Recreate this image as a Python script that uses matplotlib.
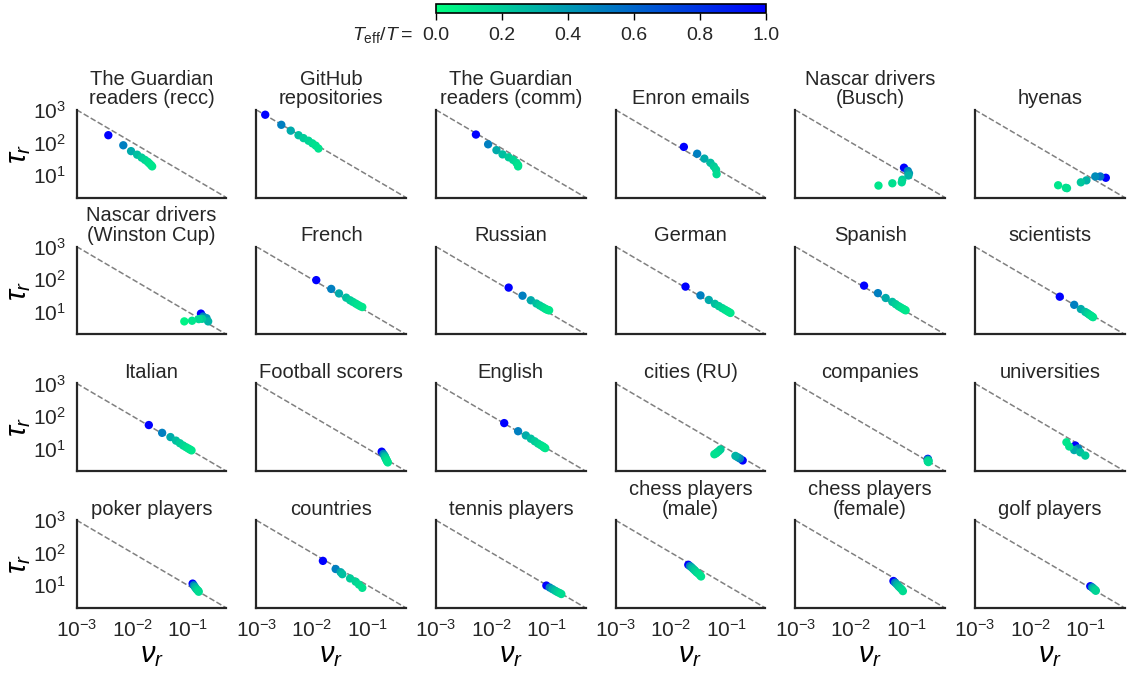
import numpy as np
import matplotlib
matplotlib.use("Agg")
import matplotlib.pyplot as plt
from matplotlib import cm, colors

plt.rcParams['font.family'] = ['Liberation Sans', 'DejaVu Sans']
plt.rcParams['mathtext.fontset'] = 'custom'
plt.rcParams['mathtext.rm'] = 'Liberation Sans'
plt.rcParams['mathtext.it'] = 'Liberation Sans:italic'

## panel titles
titles = ["The Guardian\nreaders (recc)", "GitHub\nrepositories", "The Guardian\nreaders (comm)",
          "Enron emails", "Nascar drivers\n(Busch)", "hyenas",
          "Nascar drivers\n(Winston Cup)", "French", "Russian", "German", "Spanish", "scientists",
          "Italian", "Football scorers", "English", "cities (RU)", "companies", "universities",
          "poker players", "countries", "tennis players", "chess players\n(male)",
          "chess players\n(female)", "golf players"]

## log10(nu_r)
log_nu = [
    [-2.43, -2.16, -2.02, -1.91, -1.83, -1.77, -1.72, -1.69, -1.66, -1.64],
    [-2.84, -2.55, -2.38, -2.24, -2.15, -2.06, -1.99, -1.93, -1.88],
    [-2.28, -2.06, -1.91, -1.80, -1.69, -1.61, -1.55, -1.52, -1.52],
    [-1.77, -1.53, -1.40, -1.29, -1.23, -1.19, -1.18],
    [-1.04, -0.97, -0.95, -0.96, -1.07, -1.08, -1.25, -1.50],
    [-0.64, -0.74, -0.83, -0.99, -1.09, -1.34, -1.36, -1.50],
    [-0.76, -0.72, -0.66, -0.63, -0.74, -0.80, -0.92, -1.06],
    [-1.92, -1.65, -1.51, -1.38, -1.31, -1.26, -1.21, -1.17, -1.13, -1.09],
    [-1.69, -1.44, -1.29, -1.19, -1.13, -1.08, -1.04, -1.01, -0.98, -0.96],
    [-1.74, -1.47, -1.32, -1.21, -1.14, -1.08, -1.03, -0.99, -0.96, -0.93],
    [-1.76, -1.51, -1.37, -1.25, -1.19, -1.14, -1.10, -1.06, -1.03, -1.01],
    [-1.47, -1.21, -1.09, -1.01, -0.97, -0.94, -0.91, -0.89, -0.87],
    [-1.70, -1.46, -1.31, -1.21, -1.14, -1.08, -1.03, -0.99, -0.96, -0.93],
    [-0.74, -0.71, -0.69, -0.68, -0.67, -0.66, -0.65, -0.64, -0.63],
    [-1.77, -1.52, -1.38, -1.29, -1.22, -1.16, -1.11, -1.07, -1.05, -1.03],
    [-0.71, -0.76, -0.80, -0.84, -1.11, -1.14, -1.17, -1.19, -1.22],
    [-0.61, -0.61, -0.60, -0.61, -0.60, -0.61, -0.60],
    [-1.19, -1.14, -1.21, -1.10, -1.01, -1.30, -1.35],
    [-0.91, -0.89, -0.87, -0.85, -0.83, -0.81, -0.80],
    [-1.80, -1.57, -1.48, -1.45, -1.31, -1.21, -1.15, -1.09],
    [-1.01, -0.95, -0.90, -0.85, -0.81, -0.77, -0.74],
    [-1.69, -1.66, -1.63, -1.60, -1.57, -1.54, -1.51, -1.48, -1.46],
    [-1.23, -1.20, -1.17, -1.14, -1.11, -1.08, -1.06],
    [-0.92, -0.89, -0.87, -0.85, -0.83, -0.82],
]

## log10(tau_r)
log_tau = [
    [2.22, 1.91, 1.73, 1.62, 1.53, 1.46, 1.40, 1.35, 1.30, 1.26],
    [2.85, 2.54, 2.36, 2.22, 2.13, 2.05, 1.97, 1.90, 1.81],
    [2.24, 1.94, 1.76, 1.63, 1.54, 1.46, 1.37, 1.30, 1.26],
    [1.86, 1.65, 1.50, 1.37, 1.26, 1.16, 1.02],
    [1.22, 1.12, 1.05, 0.98, 0.85, 0.77, 0.74, 0.67],
    [0.91, 0.95, 0.95, 0.83, 0.77, 0.59, 0.60, 0.68],
    [0.94, 0.85, 0.80, 0.70, 0.78, 0.77, 0.72, 0.70],
    [1.97, 1.70, 1.56, 1.43, 1.35, 1.30, 1.25, 1.21, 1.17, 1.14],
    [1.74, 1.49, 1.35, 1.25, 1.19, 1.14, 1.10, 1.07, 1.05, 1.04],
    [1.77, 1.50, 1.36, 1.24, 1.17, 1.11, 1.06, 1.02, 0.99, 0.96],
    [1.80, 1.57, 1.42, 1.30, 1.23, 1.17, 1.13, 1.09, 1.06, 1.04],
    [1.46, 1.21, 1.08, 0.99, 0.95, 0.91, 0.88, 0.85, 0.83],
    [1.72, 1.48, 1.35, 1.24, 1.16, 1.09, 1.04, 1.00, 0.97, 0.94],
    [0.90, 0.83, 0.78, 0.74, 0.70, 0.67, 0.63, 0.60, 0.57],
    [1.78, 1.53, 1.40, 1.30, 1.22, 1.15, 1.10, 1.06, 1.03, 1.01],
    [0.63, 0.69, 0.73, 0.77, 0.97, 0.92, 0.88, 0.85, 0.82],
    [0.68, 0.66, 0.64, 0.62, 0.61, 0.60, 0.58],
    [1.09, 1.00, 0.95, 0.88, 0.78, 1.06, 1.19],
    [1.05, 1.00, 0.95, 0.90, 0.86, 0.83, 0.80],
    [1.75, 1.50, 1.40, 1.34, 1.21, 1.11, 1.02, 0.92],
    [0.99, 0.93, 0.88, 0.83, 0.79, 0.76, 0.73],
    [1.63, 1.59, 1.55, 1.50, 1.45, 1.40, 1.36, 1.31, 1.27],
    [1.13, 1.08, 1.03, 0.97, 0.92, 0.87, 0.82],
    [0.97, 0.94, 0.91, 0.88, 0.85, 0.83],
]

## T_eff / T of each point (colour)
teff = [
    [1.0, 0.5, 0.33, 0.25, 0.2, 0.17, 0.14, 0.12, 0.11, 0.1],
    [1.0, 0.5, 0.33, 0.25, 0.2, 0.17, 0.14, 0.12, 0.11],
    [1.0, 0.5, 0.33, 0.25, 0.2, 0.17, 0.14, 0.12, 0.11],
    [1.0, 0.5, 0.33, 0.25, 0.2, 0.17, 0.14],
    [1.0, 0.5, 0.4, 0.3, 0.2, 0.15, 0.12, 0.1],
    [1.0, 0.55, 0.45, 0.3, 0.22, 0.15, 0.12, 0.1],
    [1.0, 0.5, 0.4, 0.3, 0.2, 0.15, 0.1, 0.05],
    [1.0, 0.5, 0.33, 0.25, 0.2, 0.17, 0.14, 0.12, 0.11, 0.1],
    [1.0, 0.5, 0.33, 0.25, 0.2, 0.17, 0.14, 0.12, 0.11, 0.1],
    [1.0, 0.5, 0.33, 0.25, 0.2, 0.17, 0.14, 0.12, 0.11, 0.1],
    [1.0, 0.5, 0.33, 0.25, 0.2, 0.17, 0.14, 0.12, 0.11, 0.1],
    [1.0, 0.5, 0.33, 0.25, 0.2, 0.17, 0.14, 0.12, 0.11],
    [1.0, 0.5, 0.33, 0.25, 0.2, 0.17, 0.14, 0.12, 0.11, 0.1],
    [1.0, 0.5, 0.33, 0.25, 0.2, 0.17, 0.14, 0.12, 0.11],
    [1.0, 0.5, 0.33, 0.25, 0.2, 0.17, 0.14, 0.12, 0.11, 0.1],
    [1.0, 0.5, 0.4, 0.3, 0.2, 0.18, 0.16, 0.14, 0.12],
    [1.0, 0.5, 0.33, 0.25, 0.2, 0.17, 0.14],
    [1.0, 0.5, 0.33, 0.25, 0.2, 0.12, 0.1],
    [1.0, 0.5, 0.33, 0.25, 0.2, 0.17, 0.14],
    [1.0, 0.5, 0.33, 0.25, 0.2, 0.17, 0.14, 0.12],
    [1.0, 0.5, 0.33, 0.25, 0.2, 0.17, 0.14],
    [1.0, 0.5, 0.33, 0.25, 0.2, 0.17, 0.14, 0.12, 0.11],
    [1.0, 0.5, 0.33, 0.25, 0.2, 0.17, 0.14],
    [1.0, 0.5, 0.33, 0.25, 0.2, 0.17],
]

nu_lim = (1e-3, 0.5)
tau_lim = (2.0, 1e3)

cmap = plt.get_cmap('winter_r')
norm = colors.Normalize(0, 1)

fig, axes = plt.subplots(4, 6, figsize=(11.28, 6.74), dpi=100)
plt.subplots_adjust(left=0.068, right=0.997, top=0.837, bottom=0.098, wspace=0.2, hspace=0.56)

for i, ax in enumerate(axes.flat):
    r, c = divmod(i, 6)
    # tau = 1/nu guide
    ax.plot(nu_lim, [1 / nu_lim[0], 1 / nu_lim[1]], ls='--', color='gray', lw=1.1, zorder=1)
    ax.scatter(10 ** np.array(log_nu[i]), 10 ** np.array(log_tau[i]), c=teff[i],
               cmap=cmap, norm=norm, s=36, linewidths=0, zorder=2)
    ax.set_xscale('log')
    ax.set_yscale('log')
    ax.set_xlim(nu_lim)
    ax.set_ylim(tau_lim)
    ax.set_xticks([1e-3, 1e-2, 1e-1])
    ax.set_yticks([1e1, 1e2, 1e3])
    ax.minorticks_off()
    ax.tick_params(length=0, labelsize=15, pad=8)
    for s in ['top', 'right']:
        ax.spines[s].set_visible(False)
    for s in ['left', 'bottom']:
        ax.spines[s].set_linewidth(1.6)
        ax.spines[s].set_color('#262626')
    ax.set_title(titles[i], fontsize=14.5, color='#262626', pad=4, linespacing=1.05)
    if c == 0:
        ax.set_ylabel(r'$\tau_r$', fontsize=21, labelpad=0)
    else:
        ax.set_yticklabels([])
    if r == 3:
        ax.set_xlabel(r'$\nu_r$', fontsize=21, labelpad=0)
    else:
        ax.set_xticklabels([])
    ax.tick_params(labelcolor='#262626')

## colorbar on top
cax = fig.add_axes([0.3865, 0.981, 0.2926, 0.0134])
cb = fig.colorbar(cm.ScalarMappable(norm=norm, cmap=cmap), cax=cax, orientation='horizontal')
cb.set_ticks([0.0, 0.2, 0.4, 0.6, 0.8, 1.0])
cb.ax.tick_params(labelsize=14, length=5, width=1, pad=5, labelcolor='#262626')
cb.outline.set_linewidth(1.2)
fig.text(0.366, 0.948, r'$T_{\rm eff}/T =$', fontsize=14, ha='right', va='center', color='#262626')

plt.savefig("out.png", dpi=100)
